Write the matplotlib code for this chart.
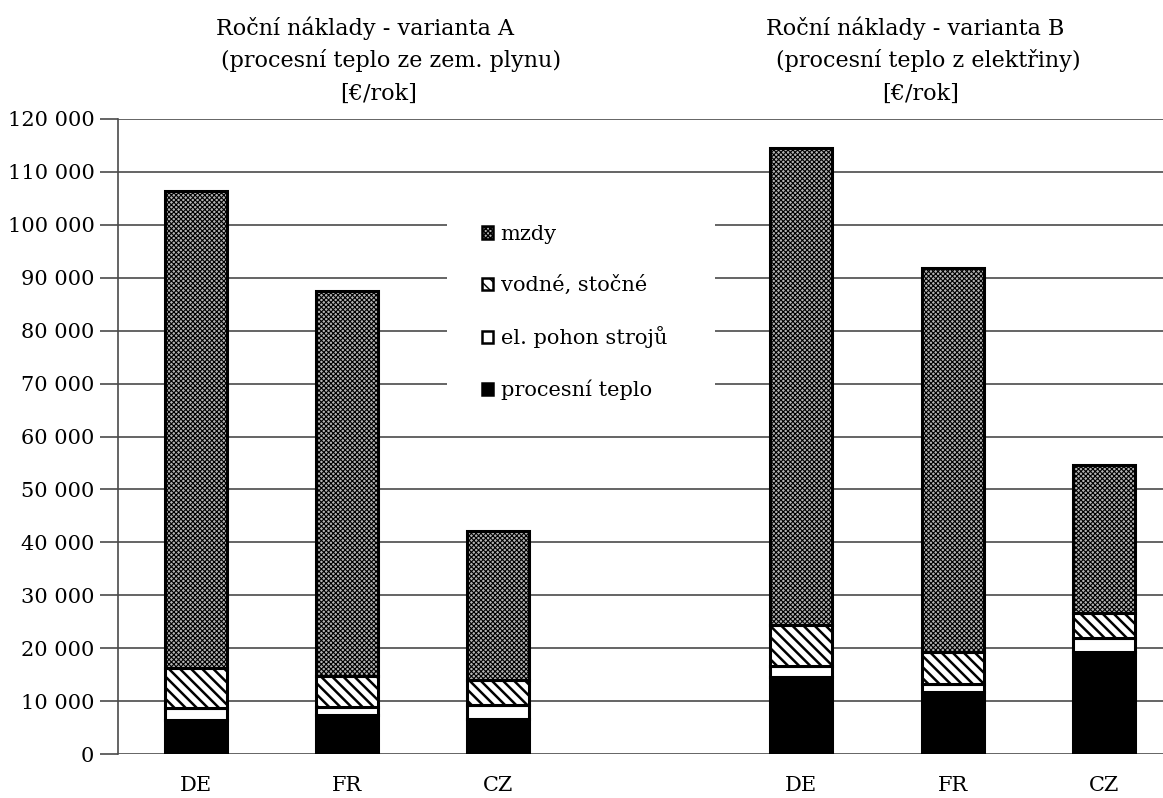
import matplotlib
matplotlib.use("Agg")
import matplotlib.pyplot as plt
from matplotlib.patches import Rectangle
from matplotlib.ticker import FuncFormatter, MultipleLocator

plt.rcParams["font.family"] = ["DejaVu Serif"]

# Annual costs [€/year] per country, two heating variants
countries = ["DE", "FR", "CZ", "DE", "FR", "CZ"]
positions = [0, 1, 2, 4, 5, 6]

procesni_teplo = [6500, 7400, 6600, 14600, 11700, 19300]
el_pohon = [2100, 1450, 2750, 2000, 1450, 2700]
vodne_stocne = [7700, 5900, 4700, 7700, 6050, 4600]
mzdy = [90000, 72750, 28050, 90200, 72600, 28100]

series_labels = ["procesní teplo", "el. pohon strojů", "vodné, stočné", "mzdy"]

title_a = ["Roční náklady - varianta A", "(procesní teplo ze zem. plynu)", "[€/rok]"]
title_b = ["Roční náklady - varianta B", "(procesní teplo z elektřiny)", "[€/rok]"]

W, H = 1163, 798
fig = plt.figure(figsize=(W / 100, H / 100), dpi=100)
ax = fig.add_axes([118 / W, 1 - 754 / H, 1 - 118 / W, (754 - 119) / H])

styles = [
    dict(facecolor="black", hatch=None, hlw=1.0),
    dict(facecolor="white", hatch=None, hlw=1.0),
    dict(facecolor="white", hatch="\\\\\\", hlw=1.8),
    dict(facecolor="#b4b4b4", hatch="xxxxxxx", hlw=0.8),
]

bar_w = 0.41
bottom = [0] * len(positions)
handles = []
for vals, lab, st in zip([procesni_teplo, el_pohon, vodne_stocne, mzdy], series_labels, styles):
    with plt.rc_context({"hatch.linewidth": st["hlw"], "hatch.color": "black"}):
        bars = ax.bar(positions, vals, bar_w, bottom=bottom, facecolor=st["facecolor"],
                      edgecolor="black", linewidth=2.2, hatch=st["hatch"], label=lab, zorder=3)
        for b in bars:
            if hasattr(b, "set_hatch_linewidth"):
                b.set_hatch_linewidth(st["hlw"])
    handles.append(bars)
    bottom = [b + v for b, v in zip(bottom, vals)]

ax.set_xlim(-0.513, 6.39)
ax.set_ylim(0, 120000)
ax.yaxis.set_major_locator(MultipleLocator(10000))
ax.yaxis.set_major_formatter(FuncFormatter(lambda v, p: f"{int(v):,}".replace(",", " ")))
ax.grid(axis="y", color="#4a4a4a", linewidth=1.2, zorder=0)
ax.set_axisbelow(True)

for s in ["top", "right", "bottom"]:
    ax.spines[s].set_visible(False)
ax.spines["left"].set_color("#4a4a4a")
ax.spines["left"].set_linewidth(1.2)

ax.set_xticks(positions)
ax.set_xticklabels(countries)
ax.tick_params(axis="x", length=0, pad=16, labelsize=15)
ax.tick_params(axis="y", length=13, width=1.2, color="#4a4a4a", pad=4, labelsize=15)

# white panel behind the legend, hiding the gridlines there
ax_w, ax_h = W - 118, 754 - 119
ax.add_patch(Rectangle(((447 - 118) / ax_w, 1 - (415 - 119) / ax_h),
                       (715 - 447) / ax_w, (415 - 200) / ax_h,
                       transform=ax.transAxes, facecolor="white", edgecolor="none", zorder=1))

leg = ax.legend(handles[::-1], series_labels[::-1], loc="upper left",
                bbox_to_anchor=((461 - 118) / ax_w, 1 - (204 - 119) / ax_h),
                frameon=False, fontsize=15, handlelength=0.55, handleheight=0.55,
                handletextpad=0.35, labelspacing=1.5, borderpad=0.5)
for h in leg.legend_handles:
    h.set_linewidth(1.8)

for lines, centers in [(title_a, [365, 391, 379]), (title_b, [915, 928, 921])]:
    for i, (t, cx) in enumerate(zip(lines, centers)):
        fig.text(cx / W, 1 - (28 + 33 * i) / H, t, ha="center", va="center", fontsize=16)

fig.savefig("out.png", dpi=100)
